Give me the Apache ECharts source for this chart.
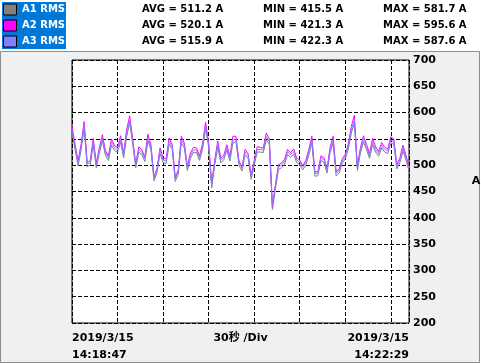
<!DOCTYPE html>
<html>
<head>
<meta charset="utf-8">
<script src="https://cdn.jsdelivr.net/npm/echarts@6/dist/echarts.min.js"></script>
<style>
html,body{margin:0;padding:0;background:#fff;}
#chart{width:481px;height:364px;}
</style>
</head>
<body>
<div id="chart"></div>
<script>
// ---- data ----
var seriesNames = ['A1 RMS', 'A2 RMS', 'A3 RMS'];
var seriesColors = ['#808080', '#FF00FF', '#8080FF'];
var sampleStep = 2; // seconds between samples
var a1 = [562,530,499,529,570,497,500,539,495,523,
  546,519,509,538,528,525,544,514,554,581,
  540,495,525,520,507,546,530,470,486,522,
  505,503,540,530,469,483,542,533,490,513,
  524,524,509,530,569,535,457,500,534,505,
  510,529,508,542,545,500,489,520,513,473,
  500,525,525,524,548,540,416,455,492,495,
  502,520,515,521,505,501,491,500,519,542,
  479,480,509,505,485,524,542,480,485,503,
  512,530,561,580,490,523,544,530,513,539,
  525,517,533,525,522,542,540,493,505,527,
  510,489];
var a2 = [575,540,508,540,583,505,509,551,504,533,
  558,528,518,550,537,534,556,523,567,594,
  549,503,535,529,516,559,539,478,494,533,
  514,512,552,539,477,491,555,542,498,523,
  534,533,518,541,582,544,465,509,546,514,
  519,539,517,555,555,508,497,530,522,481,
  509,535,534,533,561,550,421,463,501,504,
  511,530,524,531,514,510,499,509,530,555,
  487,488,518,514,493,534,555,488,493,512,
  521,540,574,595,498,533,556,540,522,551,
  535,526,543,534,531,554,550,501,514,538,
  519,497];
var a3 = [568,535,504,535,576,502,505,545,500,528,
  552,524,514,544,533,530,550,519,560,585,
  545,500,530,525,512,552,535,475,491,528,
  510,508,546,535,474,488,548,538,495,518,
  529,529,514,536,575,540,462,505,540,510,
  515,534,513,548,550,505,494,525,518,478,
  505,530,530,529,554,545,423,460,497,500,
  507,525,520,526,510,506,496,505,525,548,
  484,485,514,510,490,529,548,485,490,508,
  517,535,567,587,495,528,550,535,518,545,
  530,522,538,530,527,548,545,498,510,533,
  515,494];
var avgValues = [511.2, 520.1, 515.9];
var minValues = [415.5, 421.3, 422.3];
var maxValues = [581.7, 595.6, 587.6];
var unitLabel = 'A';
var startDate = '2019/3/15', startTime = '14:18:47';
var endDate = '2019/3/15', endTime = '14:22:29';
var divLabel = '30秒 /Div';
var xMax = 222, xInterval = 30;
var yMin = 200, yMax = 700, yInterval = 50;

// ---- build ----
function pairs(arr){ return arr.map(function(v,i){ return [i*sampleStep, v]; }); }
var allSeries = [a1, a2, a3];
var FONT = 'DejaVu Sans';
var chart = echarts.init(document.getElementById('chart'), null, {renderer:'canvas'});

var graphics = [
  {type:'rect', z:-10, shape:{x:0.5,y:51.5,width:479,height:311}, style:{fill:'#F0F0F0', stroke:'#8C8C8C', lineWidth:1}},
  {type:'rect', z:-9, shape:{x:2,y:2,width:64,height:47}, style:{fill:'#0078D7'}}
];
for (var i=0;i<3;i++){
  var cy = 9.5 + i*16;
  graphics.push({type:'rect', shape:{x:3.5,y:cy-5.5,width:13,height:11}, style:{fill:seriesColors[i], stroke:'#000', lineWidth:1}});
  graphics.push({type:'text', x:22, y:cy, style:{text:seriesNames[i], fill:'#fff', font:'bold 10px "'+FONT+'"', verticalAlign:'middle'}});
  graphics.push({type:'text', x:142, y:cy, style:{text:'AVG = '+avgValues[i].toFixed(1)+' A', fill:'#000', font:'bold 10px "'+FONT+'"', verticalAlign:'middle'}});
  graphics.push({type:'text', x:263, y:cy, style:{text:'MIN = '+minValues[i].toFixed(1)+' A', fill:'#000', font:'bold 10px "'+FONT+'"', verticalAlign:'middle'}});
  graphics.push({type:'text', x:383, y:cy, style:{text:'MAX = '+maxValues[i].toFixed(1)+' A', fill:'#000', font:'bold 10px "'+FONT+'"', verticalAlign:'middle'}});
}
var bf = 'bold 11px "'+FONT+'"';
graphics.push({type:'text', x:72, y:338, style:{text:startDate, fill:'#000', font:bf, verticalAlign:'middle'}});
graphics.push({type:'text', x:72, y:355, style:{text:startTime, fill:'#000', font:bf, verticalAlign:'middle'}});
graphics.push({type:'text', x:409, y:338, style:{text:endDate, fill:'#000', font:bf, verticalAlign:'middle', align:'right'}});
graphics.push({type:'text', x:409, y:355, style:{text:endTime, fill:'#000', font:bf, verticalAlign:'middle', align:'right'}});
graphics.push({type:'text', x:240.5, y:338, style:{text:divLabel, fill:'#000', font:'bold 11px "'+FONT+'", "Noto Sans CJK SC"', verticalAlign:'middle', align:'center'}});
graphics.push({type:'text', x:476, y:181.5, style:{text:unitLabel, fill:'#000', font:bf, verticalAlign:'middle', align:'center'}});

var option = {
  animation:false,
  backgroundColor:'#fff',
  grid:{left:72, top:60, width:337, height:263, show:true, backgroundColor:'#fff', borderColor:'#000', borderWidth:1},
  xAxis:{type:'value', min:0, max:xMax, interval:xInterval,
    axisLine:{show:false}, axisTick:{show:false}, axisLabel:{show:false},
    splitLine:{show:true, lineStyle:{color:'#000', type:[4,2], width:1}}},
  yAxis:{type:'value', position:'right', min:yMin, max:yMax, interval:yInterval,
    axisLine:{show:false}, axisTick:{show:false},
    axisLabel:{color:'#000', fontFamily:FONT, fontWeight:'bold', fontSize:11, margin:4},
    splitLine:{show:true, lineStyle:{color:'#000', type:[4,2], width:1}}},
  series: allSeries.map(function(arr,i){
    return {type:'line', name:seriesNames[i], data:pairs(arr), showSymbol:false, symbol:'none',
      lineStyle:{color:seriesColors[i], width:1}, itemStyle:{color:seriesColors[i]}, z:2+i};
  }),
  graphic: graphics
};
chart.setOption(option);
</script>
</body>
</html>
